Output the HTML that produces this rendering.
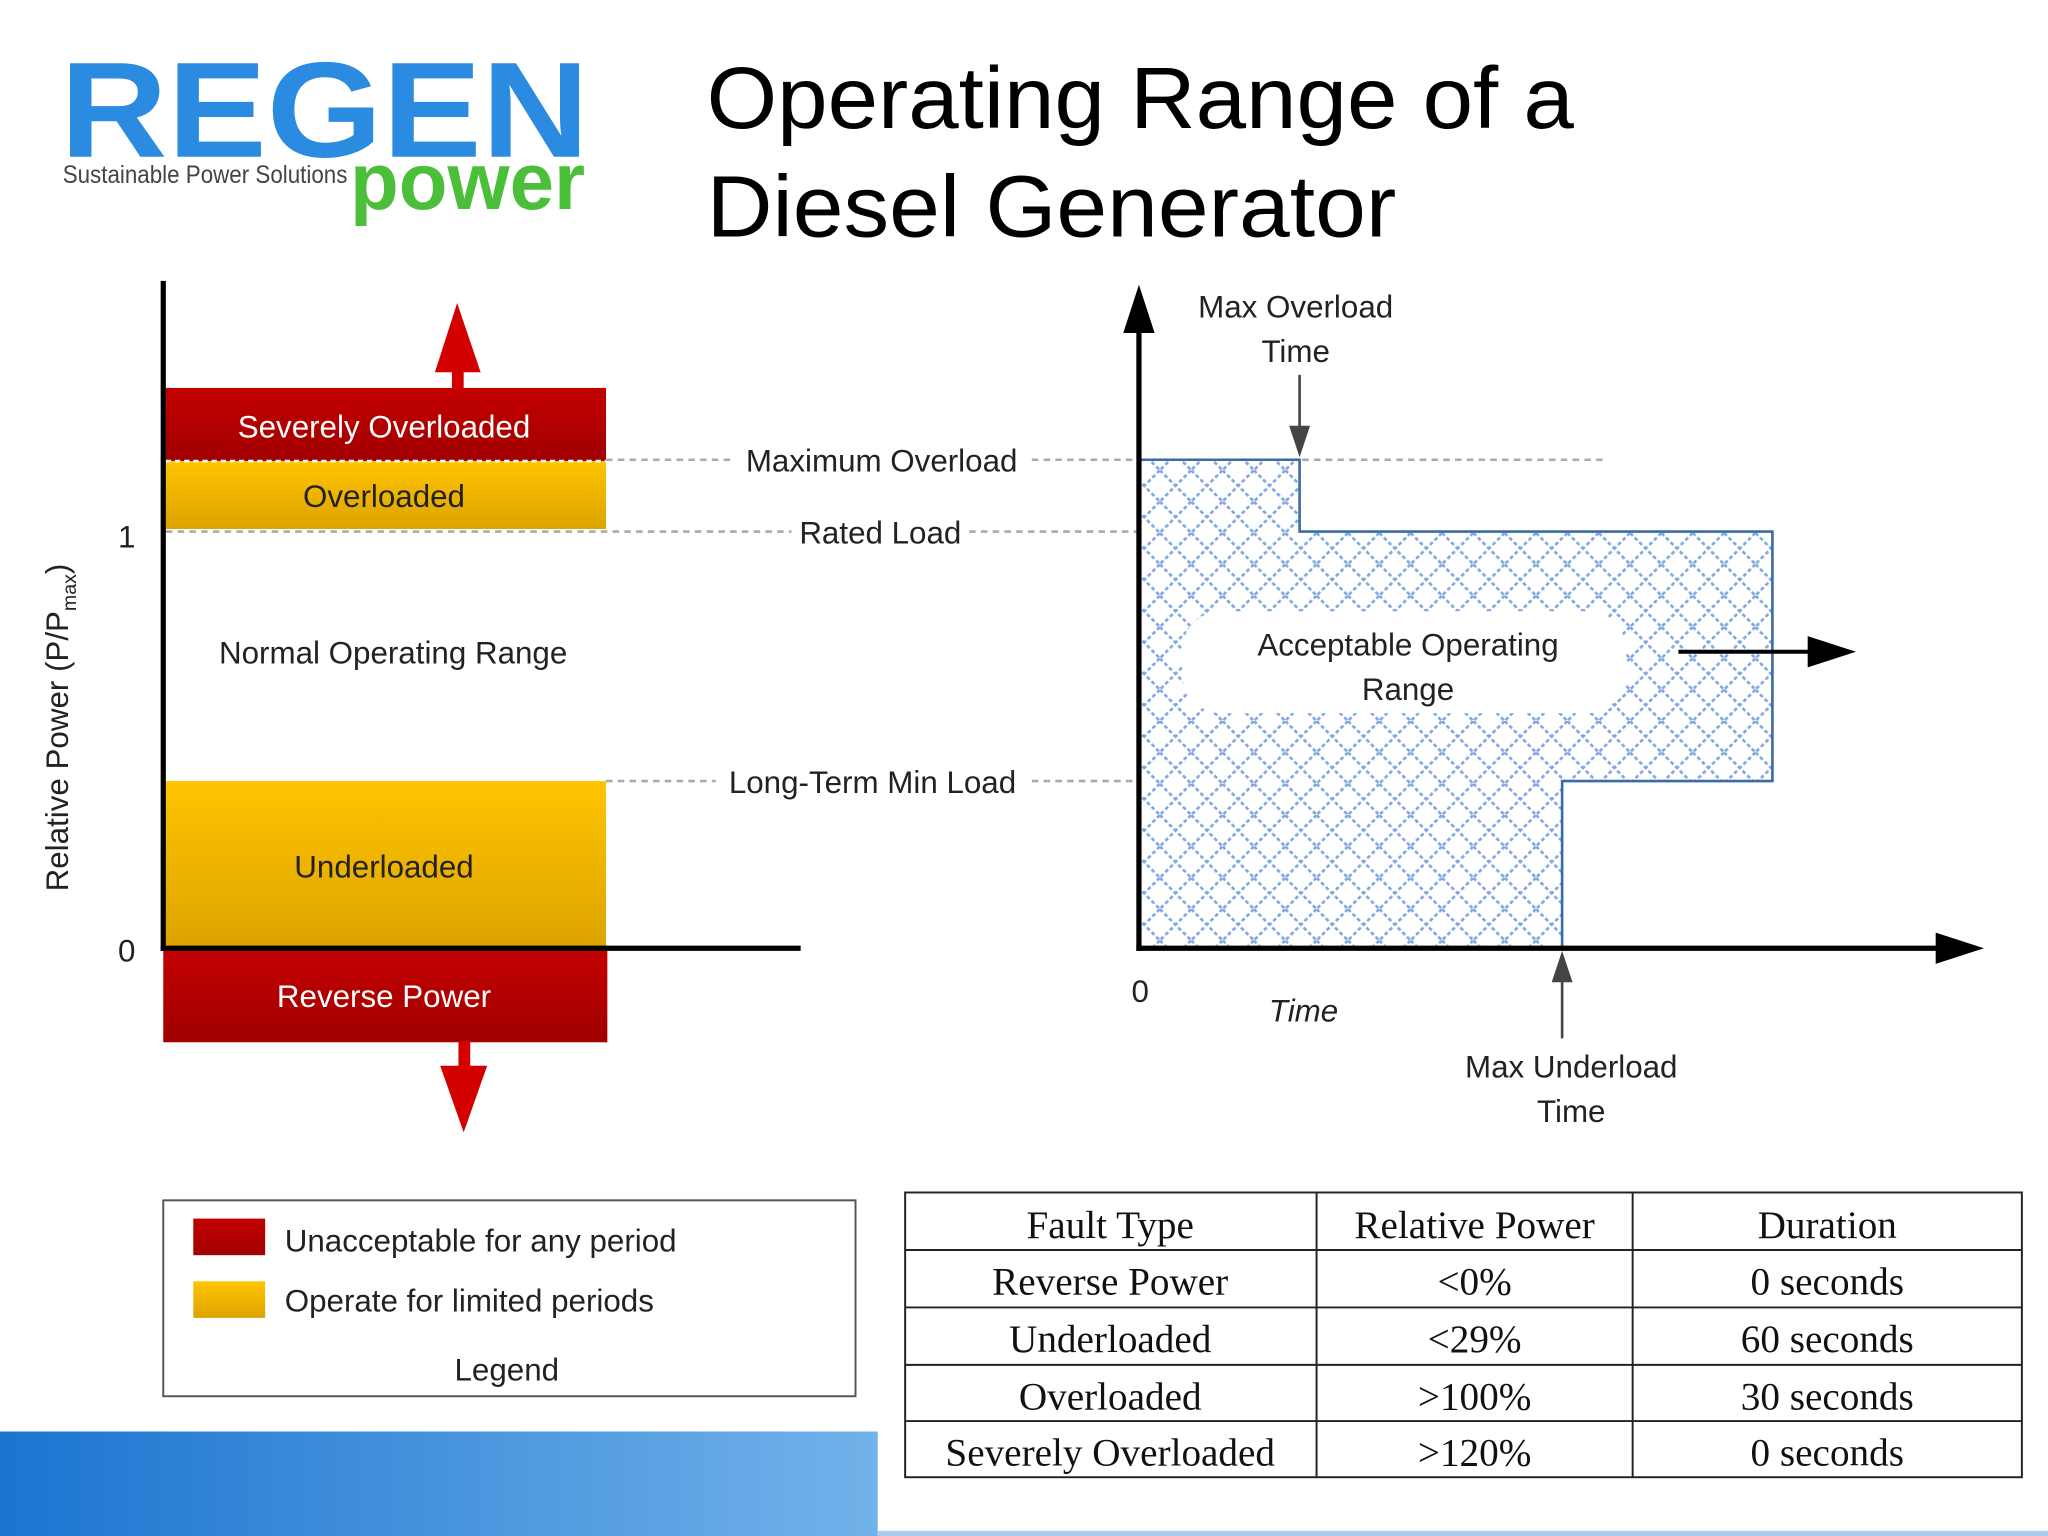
<!DOCTYPE html>
<html><head><meta charset="utf-8"><style>
html,body{margin:0;padding:0;background:#fff;}
svg{display:block;}
text{font-family:"Liberation Sans","DejaVu Sans",sans-serif;}
text.serif{font-family:"Liberation Serif","DejaVu Serif",serif;}
</style></head><body>
<svg width="2048" height="1536" viewBox="0 0 1568 1176" xmlns="http://www.w3.org/2000/svg">
<defs>
<linearGradient id="red" x1="0" y1="0" x2="0" y2="1"><stop offset="0" stop-color="#c40000"/><stop offset="1" stop-color="#a00000"/></linearGradient>
<linearGradient id="yel" x1="0" y1="0" x2="0" y2="1"><stop offset="0" stop-color="#ffc400"/><stop offset="1" stop-color="#dca300"/></linearGradient>
<linearGradient id="bar" x1="0" y1="0" x2="1" y2="0"><stop offset="0" stop-color="#1b74d0"/><stop offset="1" stop-color="#72b2ea"/></linearGradient>
<pattern id="hatch" width="24" height="24" patternUnits="userSpaceOnUse">
<path d="M0 0 L24 24 M24 0 L0 24" stroke="#7fa7e0" stroke-width="2" stroke-dasharray="3 2"/>
</pattern>
</defs>

<g>
<text x="46" y="120" font-size="104" font-weight="bold" fill="#2b8be0" textLength="405" lengthAdjust="spacingAndGlyphs">REGEN</text>
<text x="48" y="140" font-size="19" fill="#444" textLength="218" lengthAdjust="spacingAndGlyphs">Sustainable Power Solutions</text>
<text x="268" y="160" font-size="62" font-weight="bold" fill="#4cbf3a" textLength="180" lengthAdjust="spacingAndGlyphs">power</text>
</g>
<text x="541" y="98" font-size="67" fill="#000" textLength="664" lengthAdjust="spacingAndGlyphs">Operating Range of a</text>
<text x="541" y="181" font-size="67" fill="#000" textLength="528" lengthAdjust="spacingAndGlyphs">Diesel Generator</text>

<g>
<rect x="127" y="297" width="337" height="56" fill="url(#red)"/>
<rect x="127" y="353" width="337" height="52" fill="url(#yel)"/>
<rect x="127" y="598" width="337" height="128" fill="url(#yel)"/>
<rect x="125" y="726" width="340" height="72" fill="url(#red)"/>
<line x1="127" y1="353" x2="464" y2="353" stroke="#fff" stroke-width="2" stroke-dasharray="4 3"/>
<g stroke="#aaa" stroke-width="2" stroke-dasharray="5 4">
<line x1="464" y1="352" x2="560" y2="352"/><line x1="790" y1="352" x2="870" y2="352"/>
<line x1="127" y1="407" x2="606" y2="407"/><line x1="742" y1="407" x2="870" y2="407"/>
<line x1="464" y1="598" x2="548" y2="598"/><line x1="790" y1="598" x2="870" y2="598"/>
<line x1="997" y1="352" x2="1228" y2="352"/>
</g>
<line x1="125" y1="215" x2="125" y2="728" stroke="#000" stroke-width="4"/>
<line x1="123" y1="726" x2="613" y2="726" stroke="#000" stroke-width="4"/>
<rect x="346" y="278" width="9" height="20" fill="#d40000"/>
<polygon points="350,232 333,285 368,285" fill="#d40000"/>
<rect x="351" y="797" width="9" height="22" fill="#d40000"/>
<polygon points="355,867 337,816 373,816" fill="#d40000"/>
<text x="294" y="335" font-size="24" fill="#fff" text-anchor="middle">Severely Overloaded</text>
<text x="294" y="388" font-size="24" fill="#222" text-anchor="middle">Overloaded</text>
<text x="301" y="508" font-size="24" fill="#222" text-anchor="middle">Normal Operating Range</text>
<text x="294" y="672" font-size="24" fill="#222" text-anchor="middle">Underloaded</text>
<text x="294" y="771" font-size="24" fill="#fff" text-anchor="middle">Reverse Power</text>
<text x="675" y="361" font-size="24" fill="#222" text-anchor="middle">Maximum Overload</text>
<text x="674" y="416" font-size="24" fill="#222" text-anchor="middle">Rated Load</text>
<text x="668" y="607" font-size="24" fill="#222" text-anchor="middle">Long-Term Min Load</text>
<text x="97" y="419" font-size="24" fill="#222" text-anchor="middle">1</text>
<text x="97" y="736" font-size="24" fill="#222" text-anchor="middle">0</text>
<text transform="translate(52,557) rotate(-90)" font-size="24" fill="#222" text-anchor="middle">Relative Power (P/P<tspan font-size="15" dy="6">max</tspan><tspan dy="-6">)</tspan></text>
</g>

<g>
<polygon points="872,352 995,352 995,407 1357,407 1357,598 1196,598 1196,726 872,726" fill="url(#hatch)" stroke="#3b6aa8" stroke-width="2"/>
<rect x="905" y="468" width="340" height="78" rx="30" fill="#fff"/>
<text x="1078" y="502" font-size="24" fill="#222" text-anchor="middle">Acceptable Operating</text>
<text x="1078" y="536" font-size="24" fill="#222" text-anchor="middle">Range</text>
<line x1="872" y1="245" x2="872" y2="728" stroke="#000" stroke-width="4"/>
<polygon points="872,218 860,255 884,255" fill="#000"/>
<line x1="870" y1="726" x2="1490" y2="726" stroke="#000" stroke-width="4"/>
<polygon points="1519,726 1482,714 1482,738" fill="#000"/>
<line x1="1285" y1="499" x2="1390" y2="499" stroke="#000" stroke-width="3"/>
<polygon points="1421,499 1384,487 1384,511" fill="#000"/>
<line x1="995" y1="287" x2="995" y2="330" stroke="#444" stroke-width="2"/>
<polygon points="995,350 987,326 1003,326" fill="#444"/>
<line x1="1196" y1="795" x2="1196" y2="750" stroke="#444" stroke-width="2"/>
<polygon points="1196,728 1188,752 1204,752" fill="#444"/>
<text x="992" y="243" font-size="24" fill="#222" text-anchor="middle">Max Overload</text>
<text x="992" y="277" font-size="24" fill="#222" text-anchor="middle">Time</text>
<text x="1203" y="825" font-size="24" fill="#222" text-anchor="middle">Max Underload</text>
<text x="1203" y="859" font-size="24" fill="#222" text-anchor="middle">Time</text>
<text x="873" y="767" font-size="24" fill="#222" text-anchor="middle">0</text>
<text x="998" y="782" font-size="24" font-style="italic" fill="#222" text-anchor="middle">Time</text>
</g>

<g>
<rect x="125" y="919" width="530" height="150" fill="#fff" stroke="#555" stroke-width="1.5"/>
<rect x="148" y="933" width="55" height="28" fill="url(#red)"/>
<rect x="148" y="981" width="55" height="28" fill="url(#yel)"/>
<text x="218" y="958" font-size="24" fill="#222">Unacceptable for any period</text>
<text x="218" y="1004" font-size="24" fill="#222">Operate for limited periods</text>
<text x="388" y="1057" font-size="24" fill="#222" text-anchor="middle">Legend</text>
</g>

<g>
<rect x="693" y="913" width="855" height="218" fill="#fff" stroke="#222" stroke-width="1.5"/>
<g stroke="#222" stroke-width="1.5">
<line x1="1008" y1="913" x2="1008" y2="1131"/><line x1="1250" y1="913" x2="1250" y2="1131"/>
<line x1="693" y1="957" x2="1548" y2="957"/><line x1="693" y1="1001" x2="1548" y2="1001"/>
<line x1="693" y1="1045" x2="1548" y2="1045"/><line x1="693" y1="1088" x2="1548" y2="1088"/>
</g>
<g font-size="30" fill="#111" text-anchor="middle">
<text class="serif" x="850" y="948">Fault Type</text><text class="serif" x="1129" y="948">Relative Power</text><text class="serif" x="1399" y="948">Duration</text>
<text class="serif" x="850" y="991">Reverse Power</text><text class="serif" x="1129" y="991">&lt;0%</text><text class="serif" x="1399" y="991">0 seconds</text>
<text class="serif" x="850" y="1035">Underloaded</text><text class="serif" x="1129" y="1035">&lt;29%</text><text class="serif" x="1399" y="1035">60 seconds</text>
<text class="serif" x="850" y="1079">Overloaded</text><text class="serif" x="1129" y="1079">&gt;100%</text><text class="serif" x="1399" y="1079">30 seconds</text>
<text class="serif" x="850" y="1122">Severely Overloaded</text><text class="serif" x="1129" y="1122">&gt;120%</text><text class="serif" x="1399" y="1122">0 seconds</text>
</g>
</g>

<rect x="0" y="1096" width="672" height="80" fill="url(#bar)"/>
<rect x="672" y="1172" width="896" height="4" fill="#a9cdf0"/>
</svg>
</body></html>
